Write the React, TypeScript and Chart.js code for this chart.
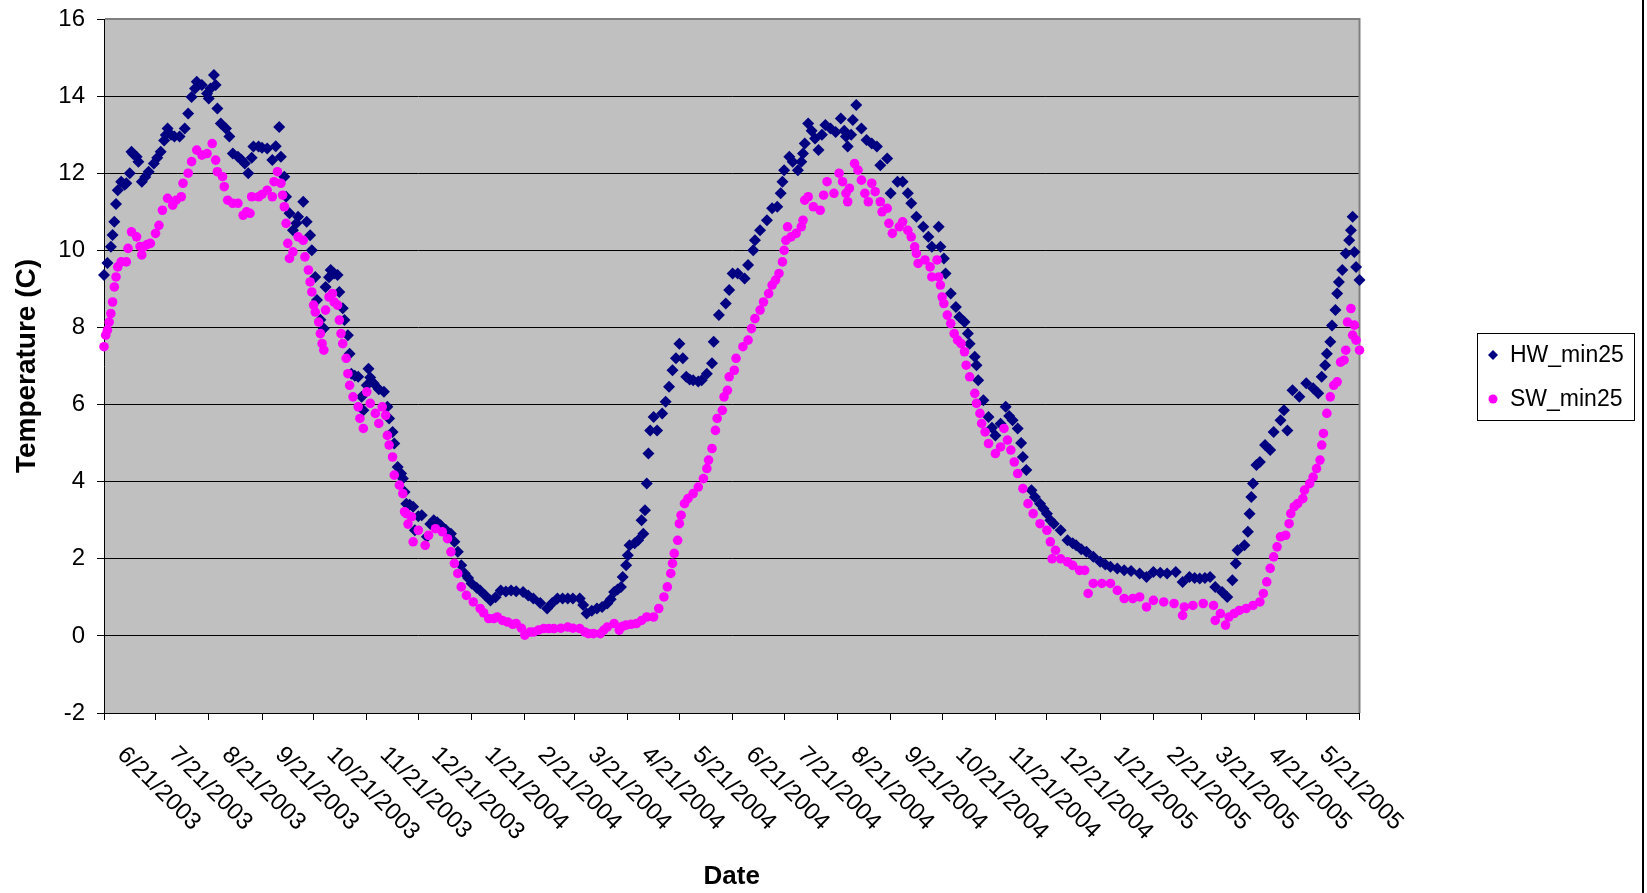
import React, { useEffect, useRef } from 'react';
import { Chart, registerables } from 'chart.js';

Chart.register(...registerables);

// ---- data ----
const axisStart = '6/21/2003';
const axisEnd = '6/21/2005';
const tickLabels = [
  '6/21/2003', '7/21/2003', '8/21/2003', '9/21/2003', '10/21/2003', '11/21/2003',
  '12/21/2003', '1/21/2004', '2/21/2004', '3/21/2004', '4/21/2004', '5/21/2004',
  '6/21/2004', '7/21/2004', '8/21/2004', '9/21/2004', '10/21/2004', '11/21/2004',
  '12/21/2004', '1/21/2005', '2/21/2005', '3/21/2005', '4/21/2005', '5/21/2005',
];
const yMin = -2;
const yMax = 16;
const yStep = 2;

const seriesNames = ['HW_min25', 'SW_min25'];

// days since 6/21/2003
const hwDay = [
  0, 2, 4, 5, 6, 7, 8, 10, 12, 13, 15, 16, 17, 19, 20, 22, 24, 26, 29, 31, 33, 35, 36, 37, 39, 41, 44, 47, 49, 51,
  53, 54, 57, 60, 61, 62, 64, 65, 66, 68, 71, 73, 75, 78, 80, 82, 84, 86, 87, 90, 92, 95, 98, 100, 102, 103, 105, 106, 108, 110,
  112, 113, 116, 118, 120, 121, 123, 124, 126, 128, 129, 131, 132, 134, 136, 137, 139, 140, 142, 143, 144, 146, 148, 150, 151, 153, 154, 155, 157, 160,
  163, 165, 166, 168, 169, 171, 173, 174, 175, 176, 178, 180, 181, 183, 185, 188, 190, 192, 194, 196, 199, 202, 204, 206, 208, 210, 212, 214, 217, 219,
  222, 225, 228, 231, 234, 237, 240, 244, 247, 250, 254, 258, 261, 264, 267, 270, 273, 277, 279, 281, 284, 287, 290, 293, 295, 297, 299, 301, 302, 304,
  305, 306, 309, 311, 313, 314, 315, 316, 317, 318, 320, 322, 325, 327, 329, 331, 333, 335, 337, 339, 341, 343, 346, 348, 351, 354, 355, 358, 362, 364,
  366, 369, 373, 375, 378, 379, 382, 386, 389, 392, 394, 395, 396, 399, 401, 404, 406, 407, 408, 410, 412, 414, 416, 418, 420, 423, 426, 429, 431, 432,
  433, 435, 436, 438, 441, 444, 447, 450, 452, 456, 458, 462, 465, 468, 470, 473, 477, 480, 482, 486, 487, 489, 490, 493, 496, 498, 501, 503, 504, 507,
  508, 509, 512, 515, 517, 519, 522, 525, 527, 529, 532, 534, 535, 537, 540, 542, 545, 547, 549, 551, 553, 557, 561, 564, 566, 569, 572, 576, 580, 583,
  586, 590, 594, 598, 603, 607, 611, 615, 619, 624, 628, 632, 635, 638, 641, 644, 647, 651, 654, 657, 659, 660, 664, 666, 667, 668, 669, 671, 673, 676,
  679, 681, 685, 687, 689, 692, 696, 700, 704, 707, 709, 711, 712, 714, 715, 717, 718, 719, 721, 723, 725, 726, 727, 728, 729, 731,
];
const hwTemp = [
  9.36, 9.67, 10.09, 10.4, 10.74, 11.2, 11.56, 11.78, 11.7, 11.74, 12.0, 12.56, 12.5, 12.43, 12.3, 11.78, 11.9, 12.04, 12.25, 12.4, 12.56, 12.85, 12.99, 13.16, 13.0, 12.95, 12.95, 13.16, 13.55, 13.98,
  14.2, 14.37, 14.29, 14.07, 13.94, 14.2, 14.55, 14.29, 13.68, 13.29, 13.16, 12.95, 12.51, 12.43, 12.35, 12.25, 12.0, 12.4, 12.69, 12.69, 12.66, 12.64, 12.34, 12.7, 13.2, 12.43, 11.91, 11.39, 10.96, 10.52,
  10.7, 10.87, 11.26, 10.74, 10.39, 10.0, 9.31, 8.71, 8.2, 7.97, 9.05, 9.3, 9.49, 9.4, 9.36, 8.92, 8.5, 8.19, 7.8, 7.32, 6.8, 6.75, 6.72, 6.2, 5.85, 6.5, 6.93, 6.7, 6.55, 6.4,
  6.33, 5.94, 5.64, 5.29, 4.99, 4.38, 4.21, 4.08, 3.73, 3.43, 3.4, 3.35, 2.74, 3.1, 3.13, 2.57, 2.9, 3.0, 2.95, 2.87, 2.75, 2.65, 2.44, 2.18, 1.83, 1.62, 1.5, 1.36, 1.25, 1.18,
  1.05, 0.92, 1.0, 1.18, 1.15, 1.18, 1.16, 1.14, 1.05, 0.97, 0.85, 0.71, 0.85, 0.97, 0.97, 0.97, 0.97, 0.97, 0.8, 0.58, 0.65, 0.71, 0.75, 0.84, 0.95, 1.14, 1.2, 1.27, 1.53, 1.83,
  2.09, 2.35, 2.4, 2.48, 3.0, 2.65, 3.26, 3.95, 4.73, 5.33, 5.68, 5.33, 5.77, 6.07, 6.46, 6.89, 7.2, 7.58, 7.2, 6.72, 6.65, 6.63, 6.6, 6.63, 6.8, 7.07, 7.63, 8.32, 8.62, 8.97,
  9.4, 9.4, 9.27, 9.62, 10.0, 10.26, 10.52, 10.78, 11.09, 11.13, 11.48, 11.78, 12.08, 12.43, 12.3, 12.08, 12.3, 12.51, 12.77, 13.29, 13.1, 12.9, 12.6, 13.0, 13.25, 13.16, 13.07, 13.42, 13.1, 12.95,
  12.69, 13.0, 13.38, 13.77, 13.16, 12.86, 12.77, 12.69, 12.21, 12.38, 11.48, 11.78, 11.78, 11.48, 11.22, 10.87, 10.61, 10.35, 10.09, 10.61, 10.09, 9.79, 9.4, 8.88, 8.53, 8.27, 8.14, 7.84, 7.58, 7.24,
  7.02, 6.63, 6.11, 5.68, 5.4, 5.2, 5.5, 5.94, 5.7, 5.59, 5.38, 5.0, 4.64, 4.3, 3.78, 3.6, 3.43, 3.3, 3.17, 3.0, 2.91, 2.74, 2.48, 2.4, 2.35, 2.25, 2.18, 2.05, 1.92, 1.85,
  1.79, 1.75, 1.7, 1.68, 1.62, 1.53, 1.66, 1.64, 1.62, 1.66, 1.4, 1.53, 1.5, 1.49, 1.5, 1.53, 1.27, 1.14, 1.01, 1.44, 1.88, 2.22, 2.35, 2.7, 3.17, 3.6, 3.95, 4.43, 4.51, 4.95,
  4.82, 5.29, 5.59, 5.85, 5.33, 6.37, 6.2, 6.55, 6.42, 6.29, 6.72, 7.02, 7.32, 7.63, 8.05, 8.45, 8.88, 9.18, 9.49, 9.92, 10.26, 10.52, 10.87, 9.96, 9.57, 9.23,
];

const swDay = [
  0, 1, 2, 3, 4, 5, 6, 7, 8, 10, 13, 14, 16, 19, 21, 22, 23, 25, 27, 30, 32, 34, 37, 40, 42, 45, 46, 49, 51, 54,
  57, 60, 63, 65, 66, 69, 70, 72, 75, 78, 81, 83, 85, 86, 90, 92, 95, 98, 99, 101, 103, 104, 105, 106, 107, 108, 110, 113, 116, 117,
  119, 120, 121, 122, 123, 125, 126, 127, 128, 129, 131, 133, 134, 136, 137, 138, 139, 141, 142, 143, 145, 148, 149, 151, 153, 155, 158, 160, 162, 164,
  165, 166, 168, 169, 172, 174, 175, 176, 177, 179, 180, 183, 187, 189, 193, 197, 200, 202, 204, 206, 208, 211, 215, 219, 221, 224, 227, 229, 232, 235,
  238, 240, 243, 245, 248, 250, 253, 256, 259, 262, 266, 270, 273, 277, 280, 282, 285, 289, 291, 293, 297, 300, 302, 304, 307, 310, 313, 316, 320, 323,
  326, 328, 330, 331, 332, 334, 335, 336, 338, 340, 343, 346, 349, 351, 352, 354, 356, 357, 360, 361, 363, 364, 367, 368, 372, 375, 377, 379, 382, 384,
  387, 389, 391, 393, 395, 396, 397, 398, 400, 403, 406, 407, 408, 410, 413, 417, 419, 421, 425, 428, 430, 432, 433, 434, 437, 439, 441, 443, 445, 447,
  449, 452, 453, 456, 457, 459, 463, 465, 468, 470, 472, 473, 474, 478, 481, 482, 485, 486, 487, 488, 489, 491, 493, 495, 497, 499, 501, 502, 504, 507,
  508, 510, 511, 513, 515, 519, 522, 524, 526, 528, 530, 532, 535, 538, 541, 545, 549, 551, 552, 554, 557, 561, 564, 568, 571, 573, 576, 581, 586, 590,
  594, 599, 603, 607, 611, 617, 623, 628, 629, 634, 640, 646, 647, 650, 653, 655, 658, 661, 665, 669, 673, 675, 677, 679, 681, 683, 685, 688, 690, 691,
  693, 695, 698, 699, 702, 704, 706, 708, 709, 710, 712, 714, 716, 718, 720, 722, 723, 724, 726, 727, 728, 729, 731,
];
const swTemp = [
  7.5, 7.8, 7.93, 8.14, 8.36, 8.66, 9.05, 9.31, 9.57, 9.7, 9.7, 10.05, 10.48, 10.35, 10.1, 9.88, 10.09, 10.15, 10.18, 10.44, 10.65, 11.04, 11.35, 11.17, 11.3, 11.39, 11.74, 12.0, 12.3, 12.6,
  12.47, 12.51, 12.77, 12.34, 12.04, 11.91, 11.65, 11.3, 11.22, 11.22, 10.91, 11.0, 10.96, 11.39, 11.39, 11.45, 11.56, 11.39, 11.78, 12.04, 11.74, 11.43, 11.13, 10.7, 10.18, 9.79, 9.96, 10.35, 10.26, 9.83,
  9.49, 9.18, 8.92, 8.58, 8.4, 8.14, 7.84, 7.58, 7.41, 8.45, 8.79, 8.88, 8.66, 8.58, 8.19, 7.84, 7.58, 7.2, 6.8, 6.5, 6.2, 5.94, 5.64, 5.38, 6.33, 6.03, 5.77, 5.51, 5.94, 5.72,
  5.2, 4.95, 4.64, 4.17, 3.91, 3.69, 3.22, 3.17, 2.9, 3.09, 2.44, 2.74, 2.35, 2.61, 2.78, 2.7, 2.52, 2.18, 1.88, 1.62, 1.27, 1.05, 0.88, 0.71, 0.6, 0.45, 0.45, 0.49, 0.4, 0.36,
  0.3, 0.32, 0.2, 0.02, 0.1, 0.1, 0.15, 0.19, 0.19, 0.19, 0.2, 0.23, 0.2, 0.19, 0.1, 0.06, 0.06, 0.06, 0.15, 0.23, 0.32, 0.15, 0.25, 0.28, 0.3, 0.32, 0.4, 0.49, 0.49, 0.71,
  1.01, 1.27, 1.62, 1.88, 2.14, 2.48, 2.91, 3.13, 3.43, 3.56, 3.69, 3.86, 4.08, 4.34, 4.56, 4.86, 5.33, 5.64, 5.85, 6.2, 6.37, 6.72, 6.89, 7.2, 7.5, 7.67, 7.97, 8.23, 8.45, 8.66,
  8.88, 9.1, 9.23, 9.4, 9.7, 10.0, 10.26, 10.61, 10.35, 10.44, 10.61, 10.78, 11.3, 11.39, 11.13, 11.04, 11.43, 11.78, 11.48, 12.0, 11.78, 11.48, 11.26, 11.61, 12.25, 12.08, 11.82, 11.48, 11.26, 11.74,
  11.52, 11.26, 11.0, 11.09, 10.7, 10.44, 10.61, 10.74, 10.52, 10.35, 10.09, 9.92, 9.66, 9.75, 9.57, 9.31, 9.75, 9.31, 9.1, 8.79, 8.62, 8.32, 8.1, 7.84, 7.67, 7.58, 7.37, 7.02, 6.72, 6.29,
  6.03, 5.77, 5.51, 5.29, 4.99, 4.73, 4.9, 5.38, 5.08, 4.82, 4.51, 4.21, 3.82, 3.43, 3.17, 2.91, 2.74, 2.44, 2.0, 2.22, 2.0, 1.92, 1.83, 1.7, 1.7, 1.1, 1.36, 1.36, 1.36, 1.18,
  0.97, 0.97, 1.01, 0.75, 0.92, 0.88, 0.84, 0.53, 0.75, 0.79, 0.84, 0.79, 0.4, 0.58, 0.28, 0.49, 0.58, 0.66, 0.71, 0.79, 0.88, 1.1, 1.4, 1.75, 2.05, 2.31, 2.57, 2.61, 2.91, 3.17,
  3.35, 3.43, 3.56, 3.78, 3.95, 4.12, 4.34, 4.56, 4.95, 5.25, 5.77, 6.2, 6.5, 6.59, 7.1, 7.15, 7.41, 8.14, 8.49, 7.8, 8.06, 7.67, 7.41,
];

// ---- helpers ----
const FONT = '"Liberation Sans", Arial, Helvetica, sans-serif';
const HW_COLOR = '#000080';
const SW_COLOR = '#FF00FF';

function parseDate(s: string): number {
  const [m, d, y] = s.split('/').map(Number);
  return Date.UTC(y, m - 1, d);
}
function dayOf(s: string): number {
  return Math.round((parseDate(s) - parseDate(axisStart)) / 86400000);
}

const tickDays = [...tickLabels.map(dayOf), dayOf(axisEnd)];

function drawMarker(ctx: CanvasRenderingContext2D, style: string, x: number, y: number, r: number, color: string) {
  ctx.beginPath();
  if (style === 'rectRot') {
    ctx.moveTo(x, y - r);
    ctx.lineTo(x + r, y);
    ctx.lineTo(x, y + r);
    ctx.lineTo(x - r, y);
    ctx.closePath();
  } else {
    ctx.arc(x, y, r, 0, Math.PI * 2);
  }
  ctx.fillStyle = color;
  ctx.fill();
}

const excelLook = {
  id: 'excelLook',
  beforeDraw(chart: any) {
    const { ctx, chartArea: a } = chart;
    ctx.save();
    ctx.fillStyle = '#ffffff';
    ctx.fillRect(0, 0, chart.width, chart.height);
    ctx.fillStyle = '#C0C0C0';
    ctx.fillRect(a.left, a.top, a.right - a.left, a.bottom - a.top);
    ctx.restore();
  },
  beforeDatasetsDraw(chart: any) {
    const { ctx, chartArea: a } = chart;
    ctx.save();
    ctx.strokeStyle = '#808080';
    ctx.lineWidth = 2;
    ctx.beginPath();
    ctx.moveTo(a.left + 1, a.top);
    ctx.lineTo(a.right, a.top);
    ctx.lineTo(a.right, a.bottom);
    ctx.stroke();
    ctx.restore();
  },
  afterDraw(chart: any) {
    const { ctx, chartArea: a } = chart;
    const xs = chart.scales.x;
    ctx.save();
    // rotated date labels
    ctx.font = `24px ${FONT}`;
    ctx.fillStyle = '#000';
    ctx.textAlign = 'left';
    ctx.textBaseline = 'middle';
    tickLabels.forEach((lab) => {
      const px = xs.getPixelForValue(dayOf(lab));
      ctx.save();
      ctx.translate(px + 17, a.bottom + 38);
      ctx.rotate(Math.PI / 4);
      ctx.fillText(lab, 0, 0);
      ctx.restore();
    });

    // legend
    const bx = 1477.5, by = 333.5, bw = 157, bh = 87;
    ctx.fillStyle = '#ffffff';
    ctx.fillRect(bx, by, bw, bh);
    ctx.strokeStyle = '#000';
    ctx.lineWidth = 1;
    ctx.strokeRect(bx, by, bw, bh);
    ctx.font = `23px ${FONT}`;
    ctx.textAlign = 'left';
    ctx.textBaseline = 'middle';
    chart.data.datasets.forEach((ds: any, i: number) => {
      const y = 355 + i * 44;
      drawMarker(ctx, ds.pointStyle, 1493, y, ds.pointStyle === 'rectRot' ? 5 : 4.5, ds.backgroundColor);
      ctx.fillStyle = '#000';
      ctx.fillText(ds.label, 1510, y + 1);
    });

    // chart area outer border (right side)
    ctx.strokeStyle = '#000';
    ctx.lineWidth = 2;
    ctx.beginPath();
    ctx.moveTo(1643, 0);
    ctx.lineTo(1643, chart.height);
    ctx.stroke();
    ctx.restore();
  },
};

export default function App() {
  const ref = useRef<HTMLCanvasElement | null>(null);

  useEffect(() => {
    if (!ref.current) return;
    const chart = new Chart(ref.current, {
      type: 'scatter',
      data: {
        datasets: [
          {
            label: seriesNames[0],
            data: hwDay.map((d, i) => ({ x: d, y: hwTemp[i] })),
            pointStyle: 'rectRot',
            pointRadius: 6,
            backgroundColor: HW_COLOR,
            borderColor: HW_COLOR,
            borderWidth: 0,
            showLine: false,
            clip: false,
            order: 1,
          },
          {
            label: seriesNames[1],
            data: swDay.map((d, i) => ({ x: d, y: swTemp[i] })),
            pointStyle: 'circle',
            pointRadius: 4.8,
            backgroundColor: SW_COLOR,
            borderColor: SW_COLOR,
            borderWidth: 0,
            showLine: false,
            clip: false,
            order: 0,
          },
        ],
      },
      options: {
        animation: false,
        responsive: false,
        maintainAspectRatio: false,
        devicePixelRatio: 1,
        events: [],
        layout: { padding: { left: 0, top: 19, right: 287.5, bottom: 0 } },
        plugins: {
          legend: { display: false },
          tooltip: { enabled: false },
          title: { display: false },
        },
        scales: {
          x: {
            type: 'linear',
            min: 0,
            max: dayOf(axisEnd),
            afterBuildTicks: (scale: any) => {
              scale.ticks = tickDays.map((v) => ({ value: v }));
            },
            afterFit: (scale: any) => {
              scale.height = 180;
              scale.paddingLeft = 0;
              scale.paddingRight = 0;
            },
            ticks: { display: false },
            grid: {
              display: true,
              drawOnChartArea: false,
              drawTicks: true,
              tickLength: 7,
              color: '#000',
              lineWidth: 1,
            },
            border: { display: true, color: '#000', width: 1 },
            title: {
              display: true,
              text: 'Date',
              color: '#000',
              font: { family: FONT, size: 26, weight: 'bold' },
              padding: { top: 0, bottom: 1 },
            },
          },
          y: {
            type: 'linear',
            min: yMin,
            max: yMax,
            afterFit: (scale: any) => {
              scale.width = 104;
              scale.paddingTop = 0;
              scale.paddingBottom = 0;
            },
            ticks: {
              stepSize: yStep,
              color: '#000',
              padding: 12,
              font: { family: FONT, size: 24 },
            },
            grid: {
              color: (c: any) => (c.tick && c.tick.value === yMax ? '#808080' : '#000000'),
              tickColor: '#000',
              lineWidth: 1,
              drawTicks: true,
              tickLength: 7,
            },
            border: { display: true, color: '#000', width: 1 },
            title: {
              display: true,
              text: 'Temperature (C)',
              color: '#000',
              font: { family: FONT, size: 28, weight: 'bold' },
              padding: { top: 10, bottom: 0 },
            },
          },
        },
      },
      plugins: [excelLook],
    } as any);
    return () => chart.destroy();
  }, []);

  return (
    <div style={{ position: 'fixed', left: 0, top: 0, width: 1647, height: 893, background: '#fff' }}>
      <canvas ref={ref} width={1647} height={893} style={{ display: 'block', width: 1647, height: 893 }} />
    </div>
  );
}
